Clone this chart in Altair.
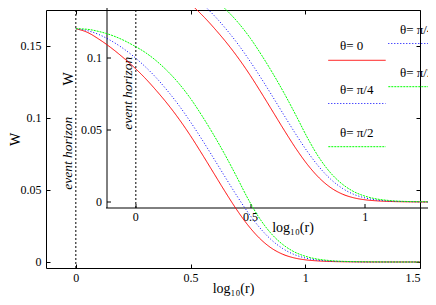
import altair as alt
import pandas as pd

# ---------------- data ----------------
log_r = [0.0, 0.05, 0.10, 0.15, 0.20, 0.25, 0.30, 0.35, 0.40, 0.45, 0.50, 0.55,
         0.60, 0.65, 0.70, 0.75, 0.80, 0.85, 0.90, 0.95, 1.00, 1.05, 1.10, 1.20,
         1.30, 1.40, 1.50]
w_theta_0 = [0.1620, 0.1595, 0.1548, 0.1492, 0.1428, 0.1358, 0.1280, 0.1192, 0.1097,
             0.0992, 0.0876, 0.0750, 0.0620, 0.0490, 0.0366, 0.0256, 0.0166, 0.0099,
             0.0055, 0.0029, 0.0015, 0.0008, 0.0004, 0.0001, 0.0, 0.0, 0.0]
w_theta_pi4 = [0.1620, 0.1607, 0.1580, 0.1540, 0.1490, 0.1430, 0.1360, 0.1280, 0.1188,
               0.1086, 0.0972, 0.0850, 0.0722, 0.0592, 0.0464, 0.0345, 0.0241, 0.0157,
               0.0095, 0.0053, 0.0028, 0.0014, 0.0007, 0.0002, 0.0, 0.0, 0.0]
w_theta_pi2 = [0.1620, 0.1616, 0.1601, 0.1578, 0.1546, 0.1505, 0.1458, 0.1398, 0.1325,
               0.1238, 0.1135, 0.1015, 0.0885, 0.0745, 0.0595, 0.0440, 0.0305, 0.0200,
               0.0124, 0.0072, 0.0040, 0.0021, 0.0011, 0.0003, 0.0001, 0.0, 0.0]
series = ["θ= 0", "θ= π/4", "θ= π/2"]
x_ticks = [0, 0.5, 1, 1.5]
y_ticks = [0, 0.05, 0.1, 0.15]
inset_x_ticks = [0, 0.5, 1]
inset_y_ticks = [0, 0.05, 0.1]
horizon_r = [0.0]
horizon_text = ["event horizon"]
horizon_text_w = [0.0755]

# ---------------- styles / layout ----------------
colors = ["#ff0000", "#0000ff", "#00ff00"]
dashes = [[1, 0], [1, 2], [2, 1]]
x_domain = [-0.13, 1.5]
y_domain = [-0.00417, 0.175]
W, H = 374, 258
FONT = "Liberation Serif"
INSET_DX, INSET_DY = 60, -60
KEY_X0, KEY_X1, KEY_TX = 282.3, 339.7, 294   # key sample line / text (px)
KEY_Y = [50.3, 136.7]                         # first / last key row (px)

rows = []
for name, vals in zip(series, [w_theta_0, w_theta_pi4, w_theta_pi2]):
    for r, w in zip(log_r, vals):
        rows.append({"r": r, "W": w, "series": name})
curves = pd.DataFrame(rows)
horizon = pd.DataFrame({"r": horizon_r})
horizon_lbl = pd.DataFrame({"r": horizon_r, "W": horizon_text_w, "label": horizon_text})
key_df = pd.DataFrame({"series": series})

xs = alt.Scale(domain=x_domain, nice=False, zero=False)
ys = alt.Scale(domain=y_domain, nice=False, zero=False)
cscale = alt.Scale(domain=series, range=colors)
dscale = alt.Scale(domain=series, range=dashes)


def label_axis(orient, values, title, offset=0, position=0, translate=0.5, **kw):
    return alt.Axis(orient=orient, values=values, format="~g", offset=offset,
                    position=position, translate=translate, ticks=False, tickSize=0,
                    labelFont=FONT, labelFontSize=12, labelColor="black",
                    domain=True, domainColor="black", domainWidth=1, grid=False,
                    title=title, titleFont=FONT, titleFontSize=14,
                    titleFontWeight="normal", titleColor="black", **kw)


def tick_axis(orient, values, offset, position=0, translate=0.5, domain=False):
    return alt.Axis(orient=orient, values=values, offset=offset, position=position,
                    translate=translate, labels=False, ticks=True, tickSize=4,
                    tickColor="black", tickWidth=1, domain=domain,
                    domainColor="black", domainWidth=1, grid=False, title=None)


# main x axes
ax_main_x = label_axis("bottom", x_ticks, "log₁₀(r)", labelPadding=4,
                       titleX=W / 2, titleY=24, titleBaseline="alphabetic")
ax_top_border = tick_axis("bottom", x_ticks, offset=-H, domain=True)
ax_bottom_ticks = tick_axis("top", x_ticks, offset=-H)
# main y axes
ax_main_y = label_axis("left", y_ticks, "W", labelPadding=5, titleAngle=270,
                       titleX=-27, titleY=H / 2, titleBaseline="alphabetic")
ax_right_border = tick_axis("left", y_ticks, offset=-W, domain=True)
ax_left_ticks = tick_axis("right", y_ticks, offset=-W)
# inset axes (same scales, shifted)
ax_in_x = label_axis("bottom", inset_x_ticks, "log₁₀(r)", offset=-61, position=59,
                     translate=1, labelPadding=4, titleX=W / 2, titleY=24,
                     titleBaseline="alphabetic")
ax_in_x_ticks = tick_axis("top", inset_x_ticks, offset=-197, position=59, translate=1)
ax_in_y = label_axis("left", inset_y_ticks, "W", offset=-60, position=-61,
                     translate=1, labelPadding=5, titleAngle=270, titleX=-34.5,
                     titleY=H / 2, titleBaseline="alphabetic")
ax_in_y_ticks = tick_axis("right", inset_y_ticks, offset=-314, position=-61,
                          translate=1)

# ---------------- layers ----------------
main_lines = alt.Chart(curves).mark_line(strokeWidth=1, interpolate="monotone").encode(
    x=alt.X("r:Q", scale=xs, axis=ax_main_x),
    y=alt.Y("W:Q", scale=ys, axis=ax_main_y),
    color=alt.Color("series:N", scale=cscale, legend=None),
    strokeDash=alt.StrokeDash("series:N", scale=dscale, legend=None),
)

main_rule = alt.Chart(horizon).mark_rule(color="black", strokeWidth=1,
                                         strokeDash=[2, 2]).encode(
    x=alt.X("r:Q", scale=xs, axis=ax_top_border),
    y=alt.Y(datum=y_domain[1], type="quantitative", scale=ys, axis=ax_right_border),
    y2=alt.Y2(datum=y_domain[0]),
)

main_text = alt.Chart(horizon_lbl).mark_text(
    angle=270, align="center", baseline="alphabetic", dy=-4, font=FONT,
    fontSize=13.5, fontStyle="italic", color="black").encode(
    x=alt.X("r:Q", scale=xs, axis=ax_bottom_ticks),
    y=alt.Y("W:Q", scale=ys, axis=ax_left_ticks),
    text="label:N",
)

inset_lines = alt.Chart(curves).mark_line(
    strokeWidth=1, interpolate="monotone", xOffset=INSET_DX, yOffset=INSET_DY).encode(
    x=alt.X("r:Q", scale=xs, axis=ax_in_x),
    y=alt.Y("W:Q", scale=ys, axis=ax_in_y),
    color=alt.Color("series:N", scale=cscale, legend=None),
    strokeDash=alt.StrokeDash("series:N", scale=dscale, legend=None),
)

inset_rule = alt.Chart(horizon).mark_rule(
    color="black", strokeWidth=1, strokeDash=[2, 2], xOffset=INSET_DX,
    yOffset=INSET_DY, y2Offset=INSET_DY).encode(
    x=alt.X("r:Q", scale=xs, axis=ax_in_x_ticks),
    y=alt.Y(datum=y_domain[1], type="quantitative", scale=ys, axis=ax_in_y_ticks),
    y2=alt.Y2(datum=y_domain[0]),
)

inset_text = alt.Chart(horizon_lbl).mark_text(
    angle=270, align="center", baseline="alphabetic", dy=-4, font=FONT,
    fontSize=13.5, fontStyle="italic", color="black",
    xOffset=INSET_DX, yOffset=INSET_DY).encode(
    x=alt.X("r:Q", scale=xs, axis=None),
    y=alt.Y("W:Q", scale=ys, axis=None),
    text="label:N",
)


def key_layers(dx, dy):
    kscale = alt.Scale(type="point", domain=series, padding=0,
                       range=[KEY_Y[0] + dy, KEY_Y[1] + dy])
    lines = alt.Chart(key_df).mark_rule(strokeWidth=1).encode(
        y=alt.Y("series:N", scale=kscale, axis=None),
        x=alt.value(KEY_X0 + dx), x2=alt.value(KEY_X1 + dx),
        color=alt.Color("series:N", scale=cscale, legend=None),
        strokeDash=alt.StrokeDash("series:N", scale=dscale, legend=None),
    )
    labels = alt.Chart(key_df).mark_text(
        align="left", baseline="middle", dy=-14, font=FONT, fontSize=13,
        color="black").encode(
        y=alt.Y("series:N", scale=kscale, axis=None),
        x=alt.value(KEY_TX + dx),
        text="series:N",
    )
    return [lines, labels]


chart = alt.layer(
    inset_rule, inset_text, inset_lines, *key_layers(INSET_DX, INSET_DY),
    main_rule, main_text, main_lines, *key_layers(0, 0)
).resolve_scale(
    y="independent"
).resolve_axis(
    x="independent", y="independent"
).properties(
    width=W, height=H,
    padding={"left": 38, "top": 2, "right": 8, "bottom": 29},
    autosize=alt.AutoSizeParams(type="none"),
    background="white",
).configure_view(stroke=None)

chart.save("out.html", embed_options={"renderer": "svg", "actions": False})
